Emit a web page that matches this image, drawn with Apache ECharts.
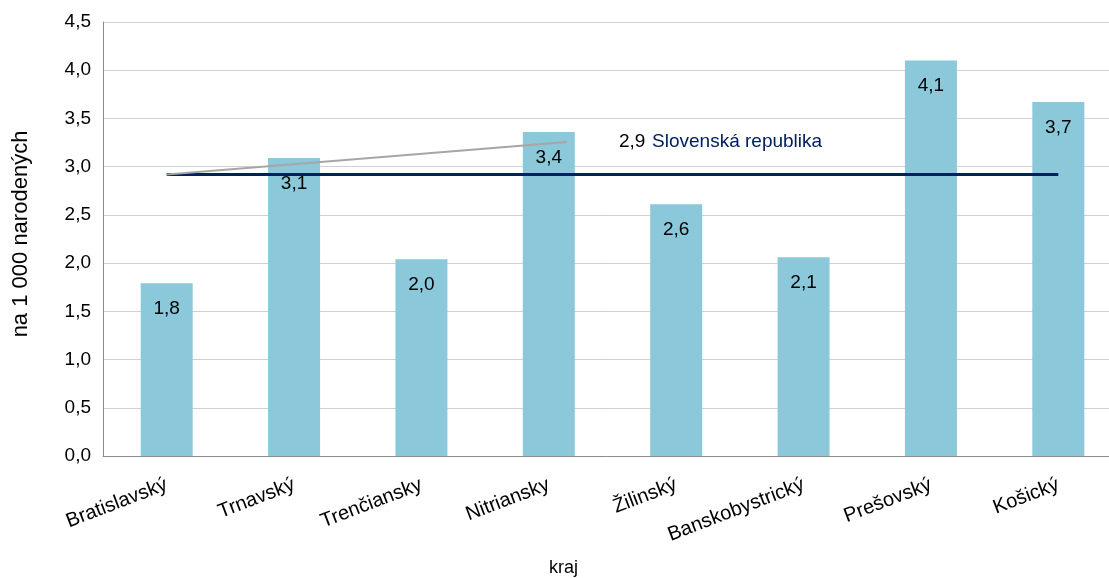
<!DOCTYPE html>
<html>
<head>
<meta charset="utf-8">
<script src="https://cdn.jsdelivr.net/npm/echarts@6/dist/echarts.min.js"></script>
<style>
  html, body { margin: 0; padding: 0; background: #fff; }
  #chart { width: 1109px; height: 578px; }
</style>
</head>
<body>
<div id="chart"></div>
<script>
// kraje
const regions = ['Bratislavský', 'Trnavský', 'Trenčiansky', 'Nitriansky', 'Žilinský', 'Banskobystrický', 'Prešovský', 'Košický'];
// hodnoty na 1 000 narodených
const values = [1.79, 3.09, 2.04, 3.36, 2.61, 2.06, 4.10, 3.67];
// priemer za Slovenskú republiku
const skAverage = 2.92;
const skName = 'Slovenská republika';
const yTicks = { min: 0, max: 4.5, interval: 0.5 };

const fmt = v => v.toFixed(1).replace('.', ',');

// priemer ako vodorovná čiara, popis len pri prvom bode
const avgData = regions.map((r, i) => i === 0
  ? { value: skAverage, label: { show: true }, labelLine: { show: true } }
  : { value: skAverage, label: { show: false }, labelLine: { show: false } });

const chart = echarts.init(document.getElementById('chart'));
const option = {
  animation: false,
  textStyle: { fontFamily: 'Liberation Sans, Arial, sans-serif' },
  grid: { left: 103, right: -13, top: 22, bottom: 122, outerBoundsMode: 'none' },
  xAxis: {
    type: 'category',
    data: regions,
    name: 'kraj',
    nameLocation: 'middle',
    nameGap: 103,
    nameTextStyle: { color: '#000', fontSize: 18, padding: [0, 98, 0, 0] },
    axisLine: { lineStyle: { color: '#8c8c8c' } },
    axisTick: { show: false },
    axisLabel: { rotate: 21, color: '#000', fontSize: 20, margin: 28, interval: 0 }
  },
  yAxis: {
    type: 'value',
    min: yTicks.min, max: yTicks.max, interval: yTicks.interval,
    name: 'na 1 000 narodených',
    nameLocation: 'middle',
    nameGap: 71,
    nameTextStyle: { color: '#000', fontSize: 22, padding: [0, 0, 0, 10] },
    axisLine: { show: true, lineStyle: { color: '#8c8c8c' } },
    axisTick: { show: false },
    axisLabel: { color: '#000', fontSize: 19, margin: 12, formatter: v => fmt(v) },
    splitLine: { lineStyle: { color: '#d0d0d0' } }
  },
  series: [
    {
      type: 'bar',
      data: values,
      barWidth: 52,
      itemStyle: { color: '#8ac8da' },
      label: {
        show: true, position: 'insideTop', distance: 16,
        color: '#000', fontSize: 19,
        formatter: p => fmt(p.value)
      }
    },
    {
      type: 'line',
      data: avgData,
      symbol: 'circle',
      symbolSize: 0,
      showSymbol: true,
      lineStyle: { color: '#002060', width: 3 },
      label: {
        formatter: p => '{s|}{a|' + fmt(p.value) + '}  {b|' + skName + '}',
        rich: {
          s: { width: 52 },
          a: { color: '#000', fontSize: 19 },
          b: { color: '#002060', fontSize: 19 }
        }
      },
      labelLine: { lineStyle: { color: '#a6a6a6', width: 2 } },
      labelLayout: p => p.dataIndex === 0 ? { x: 567, y: 142, align: 'left', verticalAlign: 'middle' } : {}
    }
  ]
};
chart.setOption(option);
window.addEventListener('resize', () => chart.resize());
</script>
</body>
</html>
